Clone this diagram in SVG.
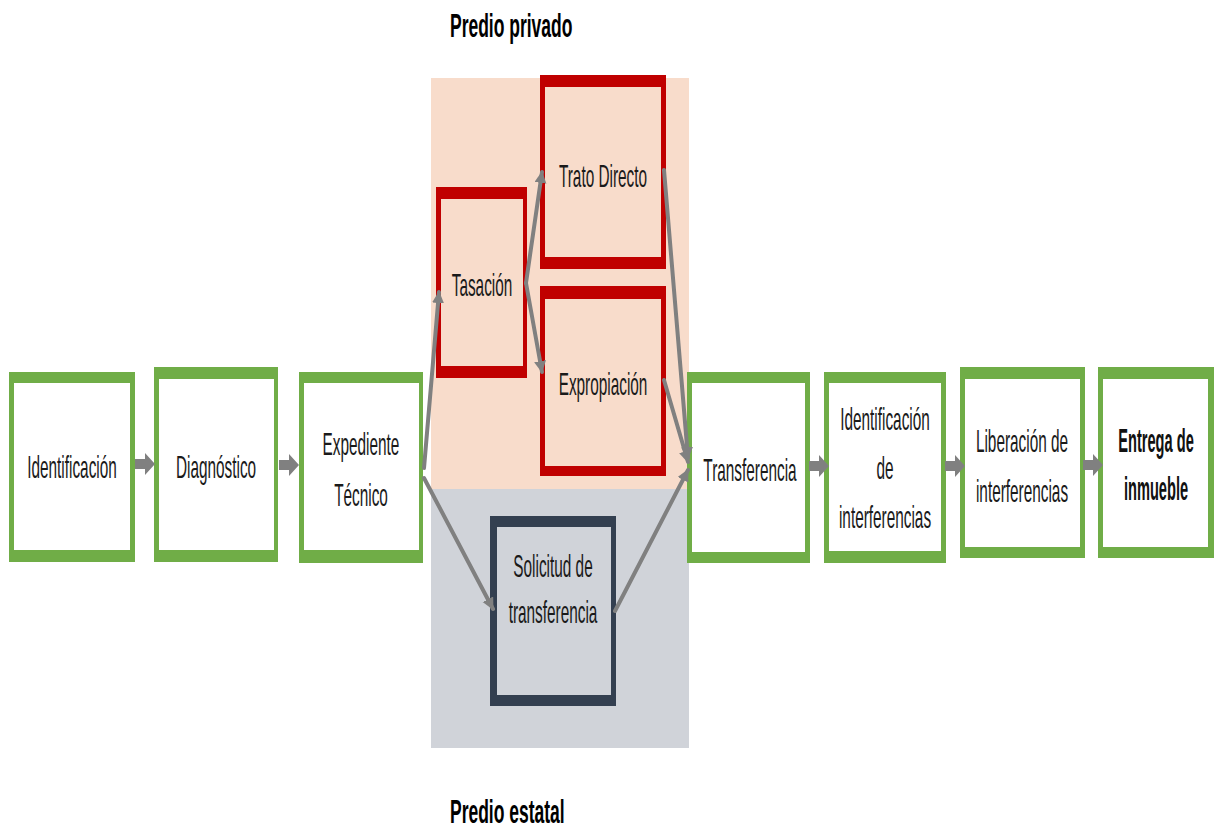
<svg xmlns="http://www.w3.org/2000/svg" width="1214" height="830" viewBox="0 0 1214 830">
<style>
.g{fill:#70ad47}.w{fill:#ffffff}.r{fill:#c00000}.pe{fill:#f8dccb}.gr{fill:#d0d3d9}.dk{fill:#333f50}
.t{font-family:"Liberation Sans",Arial,sans-serif;font-size:32px;fill:#1a1a1a;text-anchor:middle}
.b{font-family:"Liberation Sans",Arial,sans-serif;font-size:34px;font-weight:bold;fill:#111111;text-anchor:middle}
.p{font-family:"Liberation Sans",Arial,sans-serif;font-size:33px;font-weight:bold;fill:#000000}
.c{fill:none;stroke:#808080;stroke-width:4;stroke-linecap:round}
.ba{fill:#808080}
</style>
<defs>
<marker id="ah" markerUnits="userSpaceOnUse" markerWidth="14" markerHeight="14" refX="11" refY="6" orient="auto">
<path d="M0,0 L12,6 L0,12 Z" fill="#808080"/>
</marker>
<path id="blk" d="M0,-5 L10,-5 L10,-11 L20,0 L10,11 L10,5 L0,5 Z"/>
</defs>

<rect class="pe" x="431" y="78" width="258" height="411"/>
<rect class="gr" x="431" y="489" width="258" height="259"/>

<g id="label-privado"><text class="p" transform="matrix(0.53 0 0 1 450 37)">Predio privado</text></g>
<g id="label-estatal"><text class="p" transform="matrix(0.53 0 0 1 450 823)">Predio estatal</text></g>

<g id="n-identificacion">
<rect class="g" x="9" y="372" width="126" height="190"/>
<rect class="w" x="14" y="383" width="116" height="167"/>
<text class="t" transform="matrix(0.48 0 0 1 72 478)">Identificación</text>
</g>
<g id="n-diagnostico">
<rect class="g" x="154" y="367" width="124" height="195"/>
<rect class="w" x="159" y="379" width="115" height="171"/>
<text class="t" transform="matrix(0.48 0 0 1 216 478)">Diagnóstico</text>
</g>
<g id="n-expediente">
<rect class="g" x="299" y="372" width="124" height="191"/>
<rect class="w" x="304" y="383" width="115" height="167"/>
<text class="t" transform="matrix(0.48 0 0 1 361 455)"><tspan x="0" y="0">Expediente</tspan><tspan x="0" y="51">Técnico</tspan></text>
</g>
<g id="n-tasacion">
<rect class="r" x="436" y="187" width="91" height="191"/>
<rect class="pe" x="441" y="199" width="82" height="167"/>
<text class="t" transform="matrix(0.48 0 0 1 482 296)">Tasación</text>
</g>
<g id="n-trato">
<rect class="r" x="540" y="75" width="126" height="194"/>
<rect class="pe" x="545" y="87" width="116" height="170"/>
<text class="t" transform="matrix(0.48 0 0 1 603 187)">Trato Directo</text>
</g>
<g id="n-expropiacion">
<rect class="r" x="540" y="286" width="126" height="190"/>
<rect class="pe" x="545" y="299" width="116" height="167"/>
<text class="t" transform="matrix(0.48 0 0 1 603 395)">Expropiación</text>
</g>
<g id="n-solicitud">
<rect class="dk" x="490" y="516" width="126" height="190"/>
<rect class="gr" x="497" y="527" width="114" height="168"/>
<text class="t" transform="matrix(0.48 0 0 1 553 577)"><tspan x="0" y="0">Solicitud de</tspan><tspan x="0" y="46">transferencia</tspan></text>
</g>
<g id="n-transferencia">
<rect class="g" x="687" y="372" width="123" height="191"/>
<rect class="w" x="692" y="383" width="113" height="169"/>
<text class="t" transform="matrix(0.48 0 0 1 750 481)">Transferencia</text>
</g>
<g id="n-identint">
<rect class="g" x="824" y="372" width="122" height="191"/>
<rect class="w" x="829" y="383" width="112" height="168"/>
<text class="t" transform="matrix(0.48 0 0 1 885 430)"><tspan x="0" y="0">Identificación</tspan><tspan x="0" y="49">de</tspan><tspan x="0" y="98">interferencias</tspan></text>
</g>
<g id="n-liberacion">
<rect class="g" x="960" y="367" width="125" height="191"/>
<rect class="w" x="965" y="379" width="115" height="168"/>
<text class="t" transform="matrix(0.48 0 0 1 1022 452)"><tspan x="0" y="0">Liberación de</tspan><tspan x="0" y="50">interferencias</tspan></text>
</g>
<g id="n-entrega">
<rect class="g" x="1098" y="367" width="116" height="191"/>
<rect class="w" x="1103" y="379" width="105" height="168"/>
<text class="b" transform="matrix(0.43 0 0 1 1156 452)"><tspan x="0" y="0">Entrega de</tspan><tspan x="0" y="48">inmueble</tspan></text>
</g>

<g id="connectors">
<use href="#blk" class="ba" x="135" y="464"/>
<use href="#blk" class="ba" x="279" y="465"/>
<use href="#blk" class="ba" x="809" y="466"/>
<use href="#blk" class="ba" x="945" y="466"/>
<use href="#blk" class="ba" x="1083" y="465"/>
<path class="c" d="M424,468 L439,292" marker-end="url(#ah)"/>
<path class="c" d="M424,478 L493,609" marker-end="url(#ah)"/>
<path class="c" d="M526,283 L542,172" marker-end="url(#ah)"/>
<path class="c" d="M526,283 L542,372" marker-end="url(#ah)"/>
<path class="c" d="M664,170 L688,458" marker-end="url(#ah)"/>
<path class="c" d="M664,380 L688,462" marker-end="url(#ah)"/>
<path class="c" d="M615,611 L688,470" marker-end="url(#ah)"/>
</g>
</svg>
